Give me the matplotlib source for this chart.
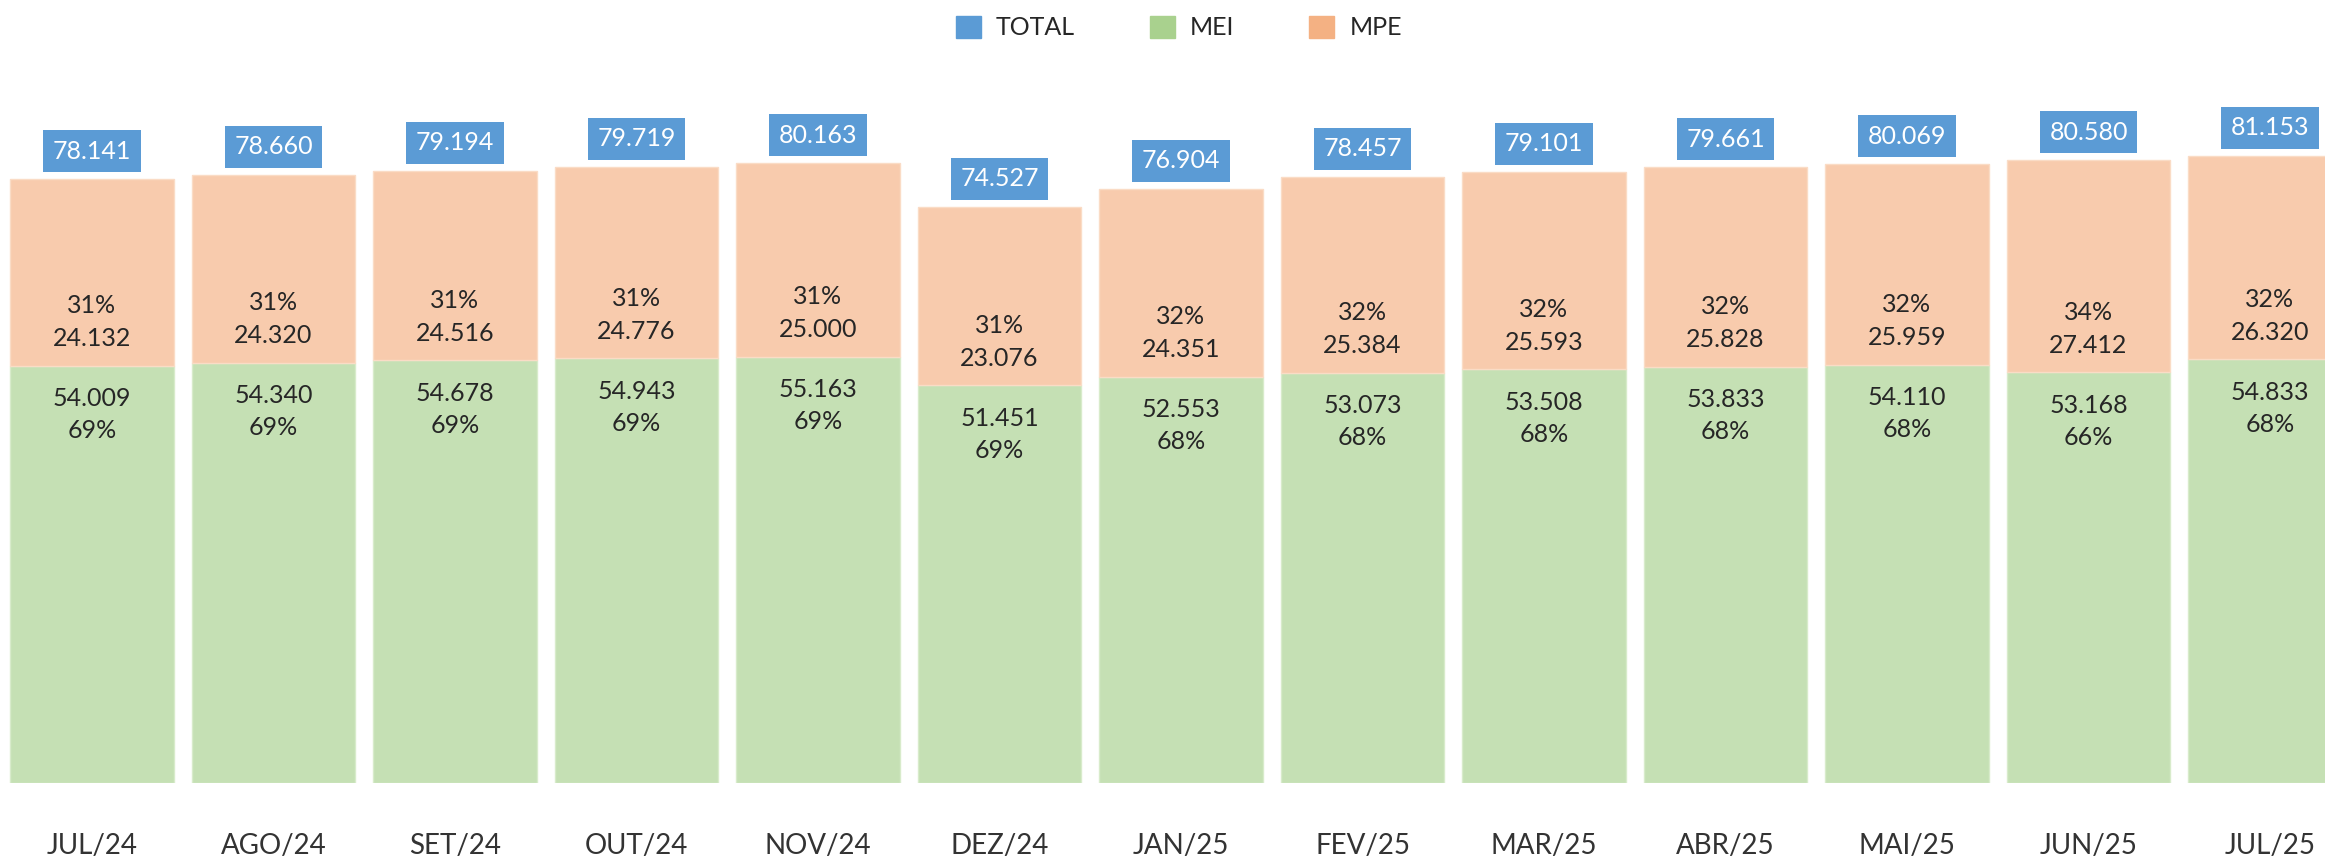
import matplotlib
matplotlib.use("Agg")
import matplotlib.pyplot as plt
from matplotlib.patches import Patch
import numpy as np

meses = ["JUL/24", "AGO/24", "SET/24", "OUT/24", "NOV/24", "DEZ/24", "JAN/25",
         "FEV/25", "MAR/25", "ABR/25", "MAI/25", "JUN/25", "JUL/25"]
mei = [54009, 54340, 54678, 54943, 55163, 51451, 52553, 53073, 53508, 53833, 54110, 53168, 54833]
mpe = [24132, 24320, 24516, 24776, 25000, 23076, 24351, 25384, 25593, 25828, 25959, 27412, 26320]
total = [78141, 78660, 79194, 79719, 80163, 74527, 76904, 78457, 79101, 79661, 80069, 80580, 81153]
pct_mei = [69, 69, 69, 69, 69, 69, 68, 68, 68, 68, 68, 66, 68]
pct_mpe = [31, 31, 31, 31, 31, 31, 32, 32, 32, 32, 32, 34, 32]

plt.rcParams['font.family'] = ['Lato', 'DejaVu Sans']

cor_total = '#5B9BD5'
cor_mei = '#A9D18E'
cor_mpe = '#F4B183'
cor_texto = '#262626'


def fmt(v):
    return f"{v:,}".replace(',', '.')


fig = plt.figure(figsize=(23.25, 8.59), dpi=100)
ax = fig.add_axes([0, 0.0885, 1, 0.9115])

x = np.arange(len(meses))
ax.bar(x, mei, width=0.9, color='#C5E0B4', edgecolor='#D8EBCB', linewidth=1)
ax.bar(x, mpe, bottom=mei, width=0.9, color='#F8CBAD', edgecolor='#FADCC6', linewidth=1)

fs = 18
for i in range(len(meses)):
    # rótulos do MPE logo acima da divisa
    ax.annotate(fmt(mpe[i]), (x[i], mei[i]), xytext=(0, 27), textcoords='offset pixels',
                ha='center', va='center', fontsize=fs, color=cor_texto)
    ax.annotate(f"{pct_mpe[i]}%", (x[i], mei[i]), xytext=(0, 60), textcoords='offset pixels',
                ha='center', va='center', fontsize=fs, color=cor_texto)
    # rótulos do MEI logo abaixo da divisa
    ax.annotate(fmt(mei[i]), (x[i], mei[i]), xytext=(0, -33), textcoords='offset pixels',
                ha='center', va='center', fontsize=fs, color=cor_texto)
    ax.annotate(f"{pct_mei[i]}%", (x[i], mei[i]), xytext=(0, -65), textcoords='offset pixels',
                ha='center', va='center', fontsize=fs, color=cor_texto)
    # total em caixa azul
    ax.annotate(fmt(total[i]), (x[i], total[i]), xytext=(0, 28), textcoords='offset pixels',
                ha='center', va='center', fontsize=fs, color='white',
                bbox=dict(boxstyle='square,pad=0.38', fc=cor_total, ec='none'))

ax.set_xlim(-0.507, 12.303)
ax.set_ylim(0, 101300)
ax.set_xticks(x)
ax.set_xticklabels(meses, fontsize=20, color='#333333')
ax.tick_params(axis='x', length=0, pad=36)
ax.set_yticks([])
for s in ax.spines.values():
    s.set_visible(False)

handles = [Patch(color=cor_total, label='TOTAL'),
           Patch(color=cor_mei, label='MEI'),
           Patch(color=cor_mpe, label='MPE')]
fig.legend(handles=handles, loc='center', bbox_to_anchor=(0.507, 0.968), ncol=3,
           frameon=False, fontsize=18, handlelength=1.0, handleheight=1.0,
           handletextpad=0.6, columnspacing=3.0, labelcolor=cor_texto)

fig.savefig('out.png', dpi=100)
